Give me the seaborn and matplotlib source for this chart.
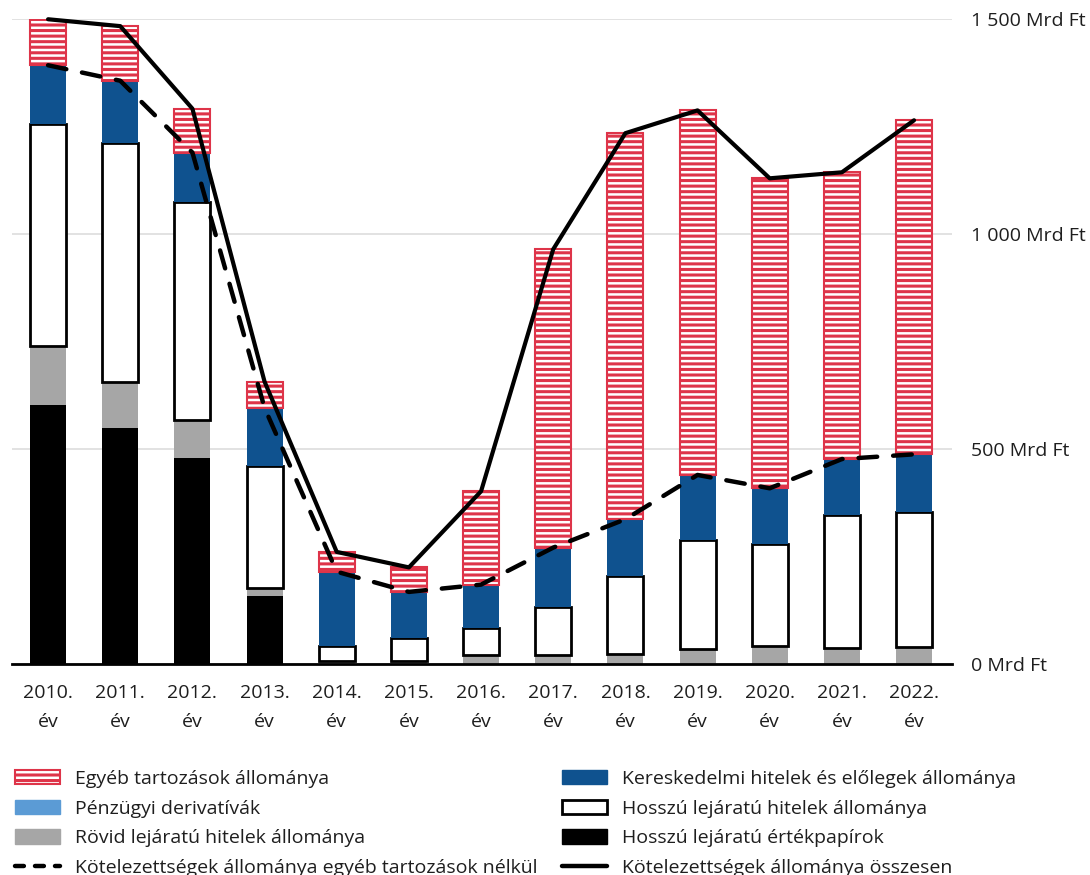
import numpy as np
import pandas as pd
import seaborn as sns
import matplotlib.pyplot as plt
from matplotlib.patches import Patch
from matplotlib.lines import Line2D

years = ['2010.\név', '2011.\név', '2012.\név', '2013.\név', '2014.\név', '2015.\név', '2016.\név',
         '2017.\név', '2018.\név', '2019.\név', '2020.\név', '2021.\név', '2022.\név']

# Mrd Ft
long_securities = [603, 550, 480, 158, 0, 0, 0, 0, 0, 0, 0, 0, 0]
short_loans = [138, 107, 88, 18, 7, 8, 22, 22, 23, 35, 41, 37, 39]
long_loans = [516, 556, 507, 286, 35, 52, 61, 110, 182, 254, 239, 311, 314]
derivatives = [0, 0, 0, 0, 0, 0, 0, 0, 0, 0, 0, 0, 0]
trade_credit = [136, 144, 115, 134, 173, 108, 102, 139, 132, 151, 129, 129, 135]
other_debt = [107, 127, 102, 61, 46, 57, 217, 694, 898, 848, 721, 667, 777]

red = '#de3449'
blue = '#0f528f'
light_blue = '#5b9bd5'
grey = '#a6a6a6'
txt = '#1e1e1e'
fs = 14

sns.set_theme(style='white')
plt.rcParams['font.family'] = ['Open Sans', 'DejaVu Sans']
plt.rcParams['hatch.linewidth'] = 2.2

layers = [
    (long_securities, dict(color='black', edgecolor='black', linewidth=0)),
    (short_loans, dict(color=grey, edgecolor=grey, linewidth=0)),
    (long_loans, dict(color='white', edgecolor='black', linewidth=2)),
    (derivatives, dict(color=light_blue, edgecolor=light_blue, linewidth=0)),
    (trade_credit, dict(color=blue, edgecolor=blue, linewidth=0)),
    (other_debt, dict(color='white', edgecolor=red, linewidth=1.5, hatch='---')),
]

fig = plt.figure(figsize=(10.9, 8.75), dpi=100)
ax = fig.add_axes([0.011, 0.241, 0.862, 0.737])

bottom = np.zeros(len(years))
for vals, style in layers:
    df = pd.DataFrame({'year': years, 'value': vals})
    sns.barplot(data=df, x='year', y='value', bottom=bottom, width=0.5, errorbar=None,
                saturation=1, ax=ax, zorder=2, **style)
    bottom = bottom + np.array(vals)

total = bottom
without_other = total - np.array(other_debt)
xs = np.arange(len(years))
sns.lineplot(x=xs, y=without_other, color='black', lw=3.2, ax=ax, zorder=4, clip_on=False)
dashed = ax.lines[-1]
dashed.set_linestyle((0, (4.2, 3.6)))
dashed.set_dash_capstyle('round')
sns.lineplot(x=xs, y=total, color='black', lw=3.0, ax=ax, zorder=5, clip_on=False)

ax.set_xlim(-0.5, 12.52)
ax.set_ylim(0, 1500)
ax.set_xlabel('')
ax.set_ylabel('')
ax.yaxis.tick_right()
ax.set_yticks([0, 500, 1000, 1500])
ax.set_yticklabels(['0 Mrd Ft', '500 Mrd Ft', '1 000 Mrd Ft', '1 500 Mrd Ft'])
ax.tick_params(axis='y', length=0, pad=14, labelsize=fs, labelcolor=txt)
ax.tick_params(axis='x', length=0, pad=14, labelsize=fs, labelcolor=txt)
for lab in ax.get_xticklabels():
    lab.set_linespacing(1.8)
ax.grid(axis='y', color='#dddddd', lw=1.2, zorder=0)
ax.grid(axis='x', visible=False)
for s in ['top', 'left', 'right']:
    ax.spines[s].set_visible(False)
ax.spines['bottom'].set_color('black')
ax.spines['bottom'].set_linewidth(2)
ax.spines['bottom'].set_zorder(6)

handles = [
    Patch(facecolor='white', edgecolor=red, hatch='---', lw=1.5),
    Patch(facecolor=light_blue, edgecolor=light_blue),
    Patch(facecolor=grey, edgecolor=grey),
    Line2D([], [], color='black', lw=3.2, linestyle=(0, (2, 2.5)), dash_capstyle='round'),
    Patch(facecolor=blue, edgecolor=blue),
    Patch(facecolor='white', edgecolor='black', lw=2),
    Patch(facecolor='black', edgecolor='black'),
    Line2D([], [], color='black', lw=3.2),
]
labels = [
    'Egyéb tartozások állománya',
    'Pénzügyi derivatívák',
    'Rövid lejáratú hitelek állománya',
    'Kötelezettségek állománya egyéb tartozások nélkül',
    'Kereskedelmi hitelek és előlegek állománya',
    'Hosszú lejáratú hitelek állománya',
    'Hosszú lejáratú értékpapírok',
    'Kötelezettségek állománya összesen',
]
fig.legend(handles, labels, ncol=2, loc='upper left', bbox_to_anchor=(0.014, 0.12),
           frameon=False, fontsize=fs, handlelength=2.3, handleheight=0.75,
           handletextpad=0.75, columnspacing=1.3, labelspacing=0.6,
           borderaxespad=0, borderpad=0, labelcolor=txt)

fig.savefig('out.png', dpi=100)
